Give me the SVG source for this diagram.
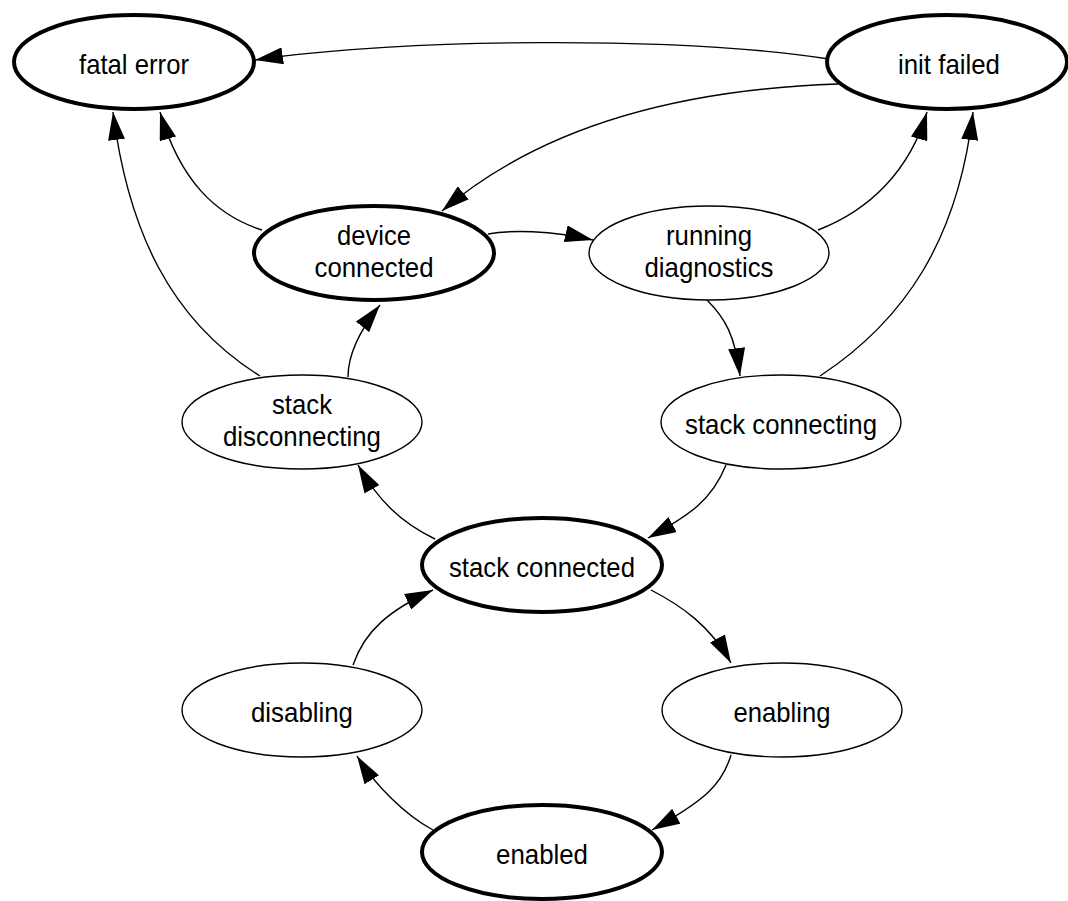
<svg xmlns="http://www.w3.org/2000/svg" width="1068" height="901" viewBox="0 0 1068 901">
  <style>
    .edge { fill: none; stroke: #000; stroke-width: 1.4; marker-end: url(#arrow); }
    .node ellipse { fill: #fff; stroke: #000; stroke-width: 1.4; }
    .node.final ellipse { stroke-width: 4; }
    .node text { font-family: "Liberation Sans", Arial, Helvetica, sans-serif; font-size: 28px; fill: #000; text-anchor: middle; }
  </style>
  <defs>
    <marker id="arrow" viewBox="0 0 28 17" refX="28" refY="8.5" markerWidth="28" markerHeight="17" markerUnits="userSpaceOnUse" orient="auto">
      <path d="M0,0 L28,8.5 L0,17 Z" fill="#000"/>
    </marker>
  </defs>
  <rect width="1068" height="901" fill="#fff"/>

  <!-- transitions -->
  <g id="connectors">
    <path id="e-initfailed-fatalerror" class="edge" d="M829,59 C680,36 400,38 255,60"/>
    <path id="e-initfailed-deviceconnected" class="edge" d="M838,84 C720,88 560,110 442,211"/>
    <path id="e-deviceconnected-fatalerror" class="edge" d="M262,230 C215,215 180,180 160,112"/>
    <path id="e-stackdisconnecting-fatalerror" class="edge" d="M260,376 C170,320 128,230 113,112"/>
    <path id="e-deviceconnected-runningdiagnostics" class="edge" d="M488,234 C510,230 550,230 593,240"/>
    <path id="e-runningdiagnostics-initfailed" class="edge" d="M818,230 C870,210 910,170 927,112"/>
    <path id="e-stackconnecting-initfailed" class="edge" d="M820,376 C905,320 958,240 973,112"/>
    <path id="e-runningdiagnostics-stackconnecting" class="edge" d="M707,300 C725,318 735,335 740,376"/>
    <path id="e-stackconnecting-stackconnected" class="edge" d="M726,465 C712,500 690,515 648,538"/>
    <path id="e-stackconnected-stackdisconnecting" class="edge" d="M435,539 C400,522 378,500 358,465"/>
    <path id="e-stackdisconnecting-deviceconnected" class="edge" d="M348,377 C348,355 360,330 380,305"/>
    <path id="e-stackconnected-enabling" class="edge" d="M651,590 C680,605 710,625 731,663"/>
    <path id="e-enabling-enabled" class="edge" d="M731,755 C722,785 705,800 652,830"/>
    <path id="e-enabled-disabling" class="edge" d="M433,830 C405,815 375,785 357,756"/>
    <path id="e-disabling-stackconnected" class="edge" d="M353,665 C365,630 390,610 433,590"/>
  </g>

  <!-- states -->
  <g id="fatal-error" class="node final">
    <ellipse cx="134" cy="62" rx="120" ry="47"/>
    <text x="134" y="74" textLength="110" lengthAdjust="spacingAndGlyphs">fatal error</text>
  </g>
  <g id="init-failed" class="node final">
    <ellipse cx="947" cy="62" rx="120" ry="47"/>
    <text x="949" y="74" textLength="102" lengthAdjust="spacingAndGlyphs">init failed</text>
  </g>
  <g id="device-connected" class="node final">
    <ellipse cx="374" cy="253" rx="120" ry="47"/>
    <text x="374" y="245" textLength="74" lengthAdjust="spacingAndGlyphs">device</text>
    <text x="374" y="277" textLength="119" lengthAdjust="spacingAndGlyphs">connected</text>
  </g>
  <g id="running-diagnostics" class="node">
    <ellipse cx="709" cy="253" rx="120" ry="47"/>
    <text x="709" y="245" textLength="86" lengthAdjust="spacingAndGlyphs">running</text>
    <text x="709" y="277" textLength="129" lengthAdjust="spacingAndGlyphs">diagnostics</text>
  </g>
  <g id="stack-disconnecting" class="node">
    <ellipse cx="302" cy="422" rx="120" ry="47"/>
    <text x="302" y="414" textLength="60" lengthAdjust="spacingAndGlyphs">stack</text>
    <text x="302" y="446" textLength="158" lengthAdjust="spacingAndGlyphs">disconnecting</text>
  </g>
  <g id="stack-connecting" class="node">
    <ellipse cx="781" cy="422" rx="120" ry="47"/>
    <text x="781" y="434" textLength="192" lengthAdjust="spacingAndGlyphs">stack connecting</text>
  </g>
  <g id="stack-connected" class="node final">
    <ellipse cx="542" cy="565" rx="120" ry="47"/>
    <text x="542" y="577" textLength="186" lengthAdjust="spacingAndGlyphs">stack connected</text>
  </g>
  <g id="disabling" class="node">
    <ellipse cx="302" cy="710" rx="120" ry="47"/>
    <text x="302" y="722" textLength="102" lengthAdjust="spacingAndGlyphs">disabling</text>
  </g>
  <g id="enabling" class="node">
    <ellipse cx="782" cy="710" rx="120" ry="47"/>
    <text x="782" y="722" textLength="97" lengthAdjust="spacingAndGlyphs">enabling</text>
  </g>
  <g id="enabled" class="node final">
    <ellipse cx="542" cy="852" rx="120" ry="47"/>
    <text x="542" y="864" textLength="92" lengthAdjust="spacingAndGlyphs">enabled</text>
  </g>
</svg>
